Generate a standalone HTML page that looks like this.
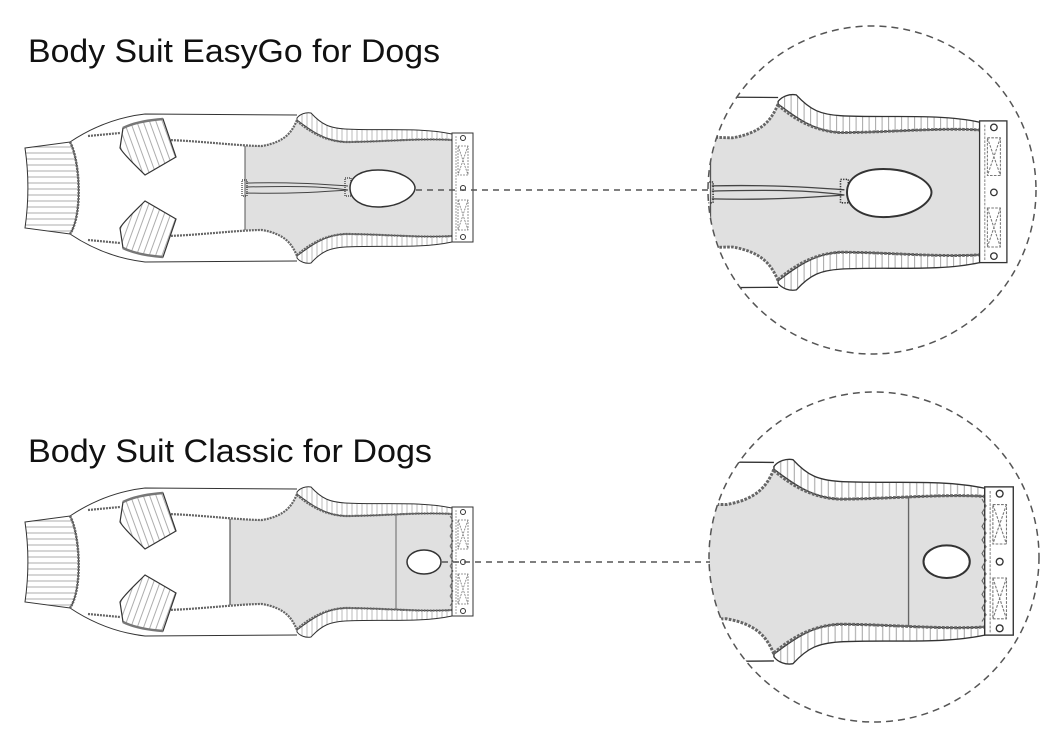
<!DOCTYPE html>
<html><head><meta charset="utf-8"><style>
html,body{margin:0;padding:0;background:#fff}
svg{display:block}
text{font-family:"Liberation Sans",sans-serif;font-size:32px;fill:#111}
</style></head><body>
<svg width="1063" height="752" viewBox="0 0 1063 752" xmlns="http://www.w3.org/2000/svg">
<defs>
<pattern id="vs" width="5" height="5" patternUnits="userSpaceOnUse"><rect width="5" height="5" fill="#fff"/><line x1="2" y1="0" x2="2" y2="5" stroke="#aaa" stroke-width="0.8"/></pattern>
<pattern id="hs" width="6" height="6" patternUnits="userSpaceOnUse"><rect width="6" height="6" fill="#fff"/><line x1="0" y1="3" x2="6" y2="3" stroke="#999" stroke-width="0.8"/></pattern>
<pattern id="ls" width="6" height="6" patternUnits="userSpaceOnUse" patternTransform="rotate(-20)"><rect width="6" height="6" fill="#fff"/><line x1="3" y1="0" x2="3" y2="6" stroke="#999" stroke-width="0.8"/></pattern>
<g id="half">
  <path d="M70,142 C85,132 110,118 145,114 L297,115 L297,119 C292,132 285,142 262,146 C240,146 200,141 168,140 L120,134 L88,140 Z" fill="#fff"/>
  <path d="M297,118 C300,114 306,112 311,113 C322,125 330,128 345,129 C380,131 420,127 452,134 L452,140 C420,138 380,142 345,142 C325,141 310,130 297,120 Z" fill="url(#vs)" stroke="#333" stroke-width="1"/>
  <path d="M297,121 C310,132 325,141 345,142 C380,142 420,138 452,140" fill="none" stroke="#666" stroke-width="2.2" stroke-dasharray="2 1"/>
  <path d="M70,142 C85,132 110,118 145,114 L297,115" fill="none" stroke="#333" stroke-width="1"/>
  <path d="M88,136 L120,133 M168,140 C200,141 240,146 262,146 C285,142 292,132 297,120" fill="none" stroke="#666" stroke-width="2.2" stroke-dasharray="2 1"/>
  <path d="M123,128 C135,122 150,120 163,119 L176,157 L145,175 C135,165 124,155 120,148 Z" fill="url(#ls)" stroke="#333" stroke-width="1.2"/>
  <path d="M123,128 C135,122 150,120 163,119" fill="none" stroke="#777" stroke-width="2.5"/>
</g>
<g id="base">
  <use href="#half"/>
  <use href="#half" transform="matrix(1,0,0,-1,0,376)"/>
  <path d="M25,148 L70,142 C80,160 83,215 70,234 L25,228 C29,200 29,175 25,148 Z" fill="url(#hs)" stroke="#333" stroke-width="1"/>
  <path d="M70,142 C80,160 83,215 70,234" fill="none" stroke="#666" stroke-width="2.5" stroke-dasharray="2 1"/>
  <rect x="452" y="133" width="21" height="109" fill="#fff" stroke="#333" stroke-width="1"/>
  <line x1="456" y1="136" x2="456" y2="240" stroke="#888" stroke-width="0.8" stroke-dasharray="2 1"/>
  <circle cx="463" cy="138" r="2.5" fill="#fff" stroke="#333"/>
  <circle cx="463" cy="188" r="2.5" fill="#fff" stroke="#333"/>
  <circle cx="463" cy="237" r="2.5" fill="#fff" stroke="#333"/>
  <path d="M458,146 h10 v29 h-10 Z M458,146 L468,175 M468,146 L458,175 M458,200 h10 v30 h-10 Z M458,200 L468,230 M468,200 L458,230" fill="none" stroke="#777" stroke-width="0.8" stroke-dasharray="2 1"/>
</g>
<g id="suitTop">
  <path d="M245,146 L262,146 C285,142 292,132 297,120 C300,114 306,112 311,113 C322,125 330,128 345,129 C380,131 420,127 452,134 L452,242 C420,249 380,245 345,247 C330,248 322,251 311,263 C306,264 300,262 297,256 C292,244 285,234 262,230 L245,230 Z" fill="#e0e0e0"/>
  <use href="#base"/>
  <line x1="245" y1="146" x2="245" y2="230" stroke="#555" stroke-width="1"/>
  <path d="M246,183 C290,182 320,184 348,186 M246,187 C290,186 320,186 348,190 M246,193 C290,194 320,192 348,190" fill="none" stroke="#444" stroke-width="1"/>
  <rect x="242" y="180" width="5" height="16" fill="none" stroke="#333" stroke-width="1.2" stroke-dasharray="1 1"/>
  <rect x="345" y="178" width="6" height="18" fill="none" stroke="#333" stroke-width="1.2" stroke-dasharray="1 1"/>
  <path d="M350,188 C350,176 362,170 378,170 C400,170 415,180 415,188 C415,196 400,207 378,207 C362,207 350,200 350,188 Z" fill="#fff" stroke="#333" stroke-width="1.5"/>
</g>
<g id="suitBot">
  <path d="M230,145 L262,146 C285,142 292,132 297,120 C300,114 306,112 311,113 C322,125 330,128 345,129 C380,131 420,127 452,134 L452,242 C420,249 380,245 345,247 C330,248 322,251 311,263 C306,264 300,262 297,256 C292,244 285,234 262,230 L230,231 Z" fill="#e0e0e0"/>
  <use href="#base"/>
  <line x1="230" y1="145" x2="230" y2="231" stroke="#555" stroke-width="1.2"/>
  <line x1="396" y1="140" x2="396" y2="236" stroke="#666" stroke-width="1"/>
  <ellipse cx="424" cy="188" rx="17" ry="12" fill="#fff" stroke="#333" stroke-width="1.5"/>
  <path d="M450,142 l3,5 -3,5 3,5 -3,5 3,5 -3,5 3,5 -3,5 3,5 -3,5 3,5 -3,5 3,5 -3,5 3,5 -3,5 3,5 -3,5" fill="none" stroke="#666" stroke-width="0.8"/>
</g>
<clipPath id="c1"><circle cx="872" cy="190" r="164"/></clipPath>
<clipPath id="c2"><circle cx="874" cy="557" r="165"/></clipPath>
</defs>

<text x="28" y="62" textLength="412" lengthAdjust="spacingAndGlyphs">Body Suit EasyGo for Dogs</text>
<text x="28" y="462" textLength="404" lengthAdjust="spacingAndGlyphs">Body Suit Classic for Dogs</text>

<use href="#suitTop"/>
<use href="#suitBot" transform="translate(0,374)"/>

<g clip-path="url(#c1)">
  <use href="#suitTop" transform="translate(392,-52) scale(1.3)"/>
</g>
<g clip-path="url(#c2)">
  <use href="#suitBot" transform="translate(370,306) scale(1.36)"/>
</g>

<circle cx="872" cy="190" r="164" fill="none" stroke="#555" stroke-width="1.5" stroke-dasharray="7 5"/>
<circle cx="874" cy="557" r="165" fill="none" stroke="#555" stroke-width="1.5" stroke-dasharray="7 5"/>
<line x1="416" y1="190" x2="710" y2="190" stroke="#555" stroke-width="1.5" stroke-dasharray="6 5"/>
<line x1="442" y1="562" x2="710" y2="562" stroke="#555" stroke-width="1.5" stroke-dasharray="6 5"/>
</svg>
</body></html>
